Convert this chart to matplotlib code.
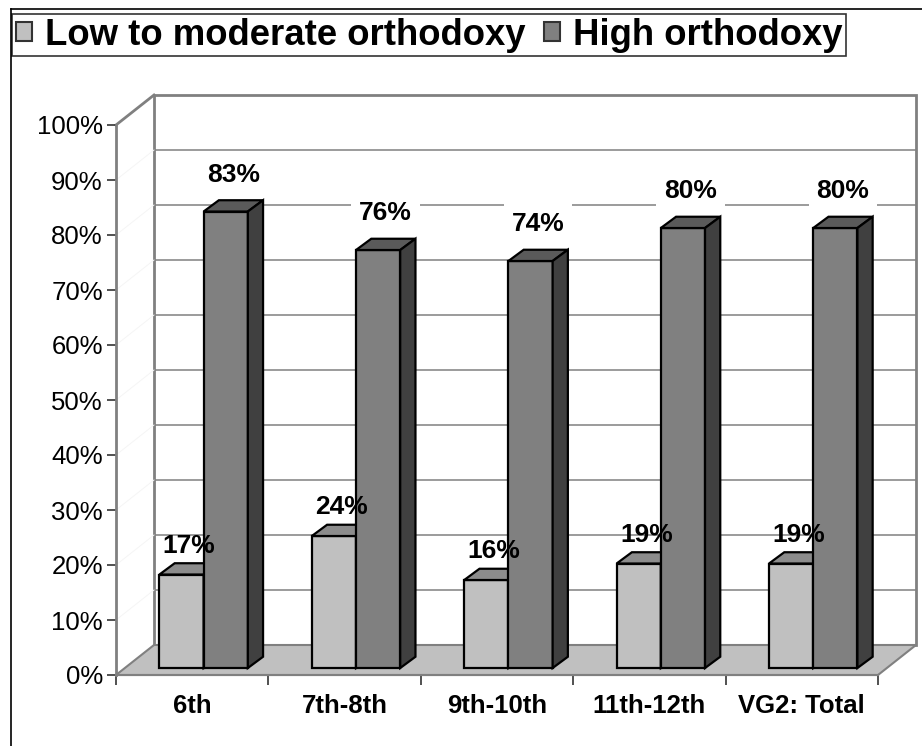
import matplotlib
matplotlib.use('Agg')
import matplotlib.pyplot as plt
from matplotlib.patches import Polygon, Patch
from matplotlib.lines import Line2D

plt.rcParams['font.family'] = ['Liberation Sans', 'DejaVu Sans']

# data
categories = ['6th', '7th-8th', '9th-10th', '11th-12th', 'VG2: Total']
low_mod = [17, 24, 16, 19, 19]
high = [83, 76, 74, 80, 80]
series_names = ['Low to moderate orthodoxy', 'High orthodoxy']
yticks = list(range(0, 101, 10))

# colours (front, top, side)
LIGHT = ('#c0c0c0', '#8c8c8c', '#606060')
DARK = ('#808080', '#5a5a5a', '#404040')
WALL = '#808080'

# pseudo 3d depth of the wall (data units)
DX, DY = 0.2493, 5.4545
# bar depth placement
FX0, FY0 = 0.055, 1.27
DDX, DDY = 0.1, 2.05
BW = 0.29

fig = plt.figure(figsize=(9.22, 7.46), dpi=100)
ax = fig.add_axes([116 / 922, 71 / 746, 762 / 922, 550 / 746])
ax.patch.set_visible(False)
ax.set_xlim(0, 5)
ax.set_ylim(0, 100)
n = len(categories)

# back wall + side wall frame
ax.add_patch(Polygon([(DX, DY), (n + DX, DY), (n + DX, 100 + DY), (DX, 100 + DY)],
                     closed=True, facecolor='white', edgecolor=WALL, lw=2,
                     clip_on=False, zorder=0))
for y in yticks[1:-1]:
    ax.plot([DX, n + DX], [y + DY, y + DY], color=WALL, lw=1.1, clip_on=False, zorder=1)
    ax.plot([0, DX], [y, y + DY], color='#f5f5f5', lw=0.7, clip_on=False, zorder=1)
ax.plot([0, DX], [100, 100 + DY], color=WALL, lw=2, clip_on=False, zorder=1)

# floor
ax.add_patch(Polygon([(0, 0), (n, 0), (n + DX, DY), (DX, DY)], closed=True,
                     facecolor='#c0c0c0', edgecolor=WALL, lw=1.5,
                     clip_on=False, zorder=2))


def bar3d(x0, v, cols, z):
    ax.bar(x0, v, width=BW, bottom=FY0, align='edge', color=cols[0],
           edgecolor='black', lw=1.6, clip_on=False, zorder=z)
    x1 = x0 + BW
    top = v + FY0
    ax.add_patch(Polygon([(x0, top), (x1, top), (x1 + DDX, top + DDY), (x0 + DDX, top + DDY)],
                         closed=True, facecolor=cols[1], edgecolor='black', lw=1.6,
                         clip_on=False, zorder=z))
    ax.add_patch(Polygon([(x1, FY0), (x1 + DDX, FY0 + DDY), (x1 + DDX, top + DDY), (x1, top)],
                         closed=True, facecolor=cols[2], edgecolor='black', lw=1.6,
                         clip_on=False, zorder=z))


for i in range(n):
    xl = i + 0.285
    xh = xl + BW
    bar3d(xl, low_mod[i], LIGHT, 3 + 2 * i)
    bar3d(xh, high[i], DARK, 4 + 2 * i)
    ax.annotate(f'{low_mod[i]}%', (xl + BW / 2 + DDX / 2, low_mod[i] + FY0 + DDY / 2),
                xytext=(0, 16.5), textcoords='offset points', ha='center', va='center',
                fontsize=19, fontweight='bold', zorder=20, annotation_clip=False)
    ax.annotate(f'{high[i]}%', (xh + BW / 2 + DDX / 2, high[i] + FY0 + DDY / 2),
                xytext=(0, 22.5), textcoords='offset points', ha='center', va='center',
                fontsize=19, fontweight='bold', zorder=20, annotation_clip=False,
                bbox=dict(boxstyle='square,pad=0.3', fc='white', ec='none'))

# axes
for s in ['top', 'right']:
    ax.spines[s].set_visible(False)
ax.spines['left'].set_color(WALL)
ax.spines['left'].set_linewidth(2)
ax.spines['bottom'].set_color(WALL)
ax.spines['bottom'].set_linewidth(1.5)
ax.spines['left'].set_zorder(2.5)
ax.set_yticks(yticks)
ax.set_yticklabels([f'{t}%' for t in yticks], fontsize=18.5)
ax.tick_params(axis='y', length=6.5, width=1.2, color='#333333', pad=3)
ax.set_xticks(range(n + 1))
ax.set_xticklabels([])
ax.tick_params(axis='x', which='major', length=7, width=1.2, color='#333333')
ax.set_xticks([i + 0.5 for i in range(n)], minor=True)
ax.set_xticklabels(categories, minor=True, fontsize=18.5, fontweight='bold')
ax.tick_params(axis='x', which='minor', length=0, pad=14)

# legend
handles = [Patch(facecolor=LIGHT[0], edgecolor='#333333', lw=1.5),
           Patch(facecolor=DARK[0], edgecolor='#333333', lw=1.5)]
leg = fig.legend(handles, series_names, loc='upper left', bbox_to_anchor=(12 / 922, 1 - 14 / 746),
                 ncol=2, frameon=True, fancybox=False, edgecolor='black',
                 prop={'size': 26.3, 'weight': 'bold'}, handlelength=0.45, handleheight=0.45,
                 handletextpad=0.35, columnspacing=0.5, borderpad=0.1, borderaxespad=0)
leg.get_frame().set_linewidth(1.2)

# outer chart border (top and left only visible)
fig.add_artist(Line2D([11 / 922, 1], [1 - 9 / 746, 1 - 9 / 746], color='black', lw=1.2))
fig.add_artist(Line2D([11 / 922, 11 / 922], [0, 1 - 9 / 746], color='black', lw=1.2))

plt.savefig('out.png', dpi=100)
